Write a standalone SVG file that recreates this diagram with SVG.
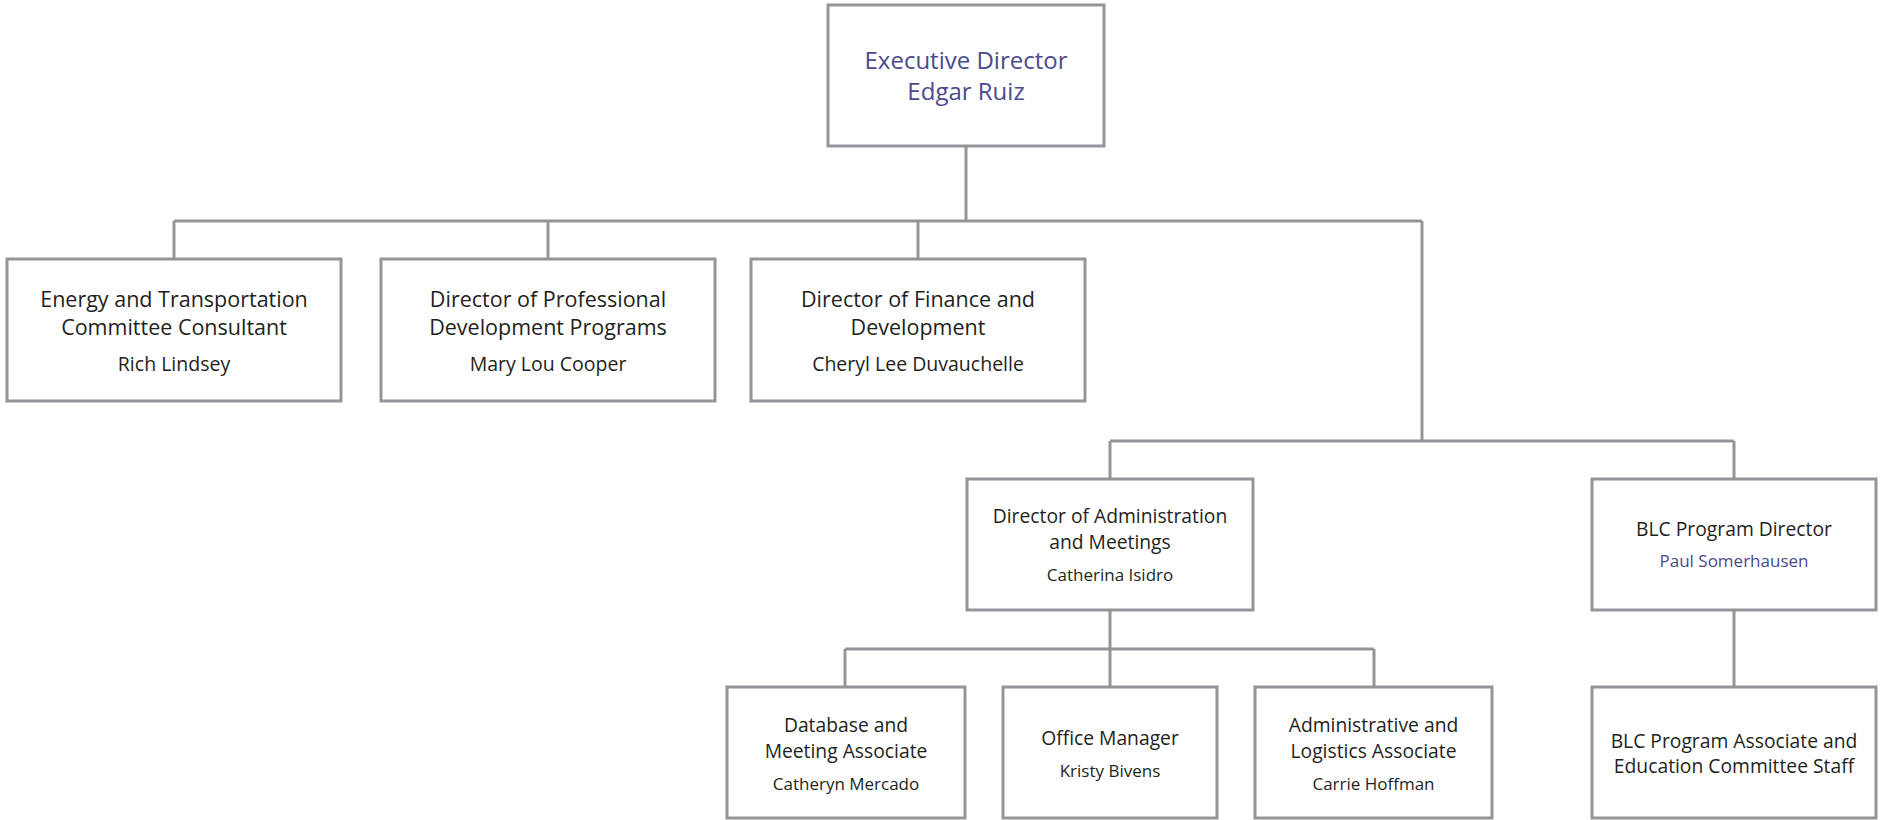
<svg xmlns="http://www.w3.org/2000/svg" width="1881" height="820" viewBox="0 0 1881 820">
<style>
.box{fill:#ffffff;stroke:#939598;stroke-width:3}
.con{fill:none;stroke:#939598;stroke-width:3}
text{font-family:"Open Sans","Noto Sans",sans-serif;text-anchor:middle;fill:#231f20}
.exec{font-size:24px;fill:#4b4a8c}
.t2{font-size:21.5px}
.n2{font-size:19.5px}
.t3{font-size:19.3px}
.n3{font-size:17px}
.blue{fill:#4b4a8c}
</style>
<rect width="1881" height="820" fill="#ffffff"/>
<g id="connectors">
<path class="con" d="M966 146V221M174 221H1422M174 221V259M548 221V259M918 221V259M1422 221V441M1110 441H1734M1110 441V479M1734 441V479M1110 610V649M845 649H1374M845 649V687M1110 649V687M1374 649V687M1734 610V687"/>
</g>
<g id="exec">
<rect class="box" x="828" y="5" width="276" height="141"/>
<text class="exec" x="966" y="69">Executive Director</text>
<text class="exec" x="966" y="100">Edgar Ruiz</text>
</g>
<g id="energy">
<rect class="box" x="7" y="259" width="334" height="142"/>
<text class="t2" x="174" y="307">Energy and Transportation</text>
<text class="t2" x="174" y="335">Committee Consultant</text>
<text class="n2" x="174" y="371">Rich Lindsey</text>
</g>
<g id="profdev">
<rect class="box" x="381" y="259" width="334" height="142"/>
<text class="t2" x="548" y="307">Director of Professional</text>
<text class="t2" x="548" y="335">Development Programs</text>
<text class="n2" x="548" y="371">Mary Lou Cooper</text>
</g>
<g id="finance">
<rect class="box" x="751" y="259" width="334" height="142"/>
<text class="t2" x="918" y="307">Director of Finance and</text>
<text class="t2" x="918" y="335">Development</text>
<text class="n2" x="918" y="371">Cheryl Lee Duvauchelle</text>
</g>
<g id="admin">
<rect class="box" x="967" y="479" width="286" height="131"/>
<text class="t3" x="1110" y="523">Director of Administration</text>
<text class="t3" x="1110" y="549">and Meetings</text>
<text class="n3" x="1110" y="581">Catherina Isidro</text>
</g>
<g id="blc">
<rect class="box" x="1592" y="479" width="284" height="131"/>
<text class="t3" x="1734" y="536">BLC Program Director</text>
<text class="n3 blue" x="1734" y="567">Paul Somerhausen</text>
</g>
<g id="database">
<rect class="box" x="727" y="687" width="238" height="131"/>
<text class="t3" x="846" y="732">Database and</text>
<text class="t3" x="846" y="758">Meeting Associate</text>
<text class="n3" x="846" y="790">Catheryn Mercado</text>
</g>
<g id="office">
<rect class="box" x="1003" y="687" width="214" height="131"/>
<text class="t3" x="1110" y="745">Office Manager</text>
<text class="n3" x="1110" y="777">Kristy Bivens</text>
</g>
<g id="logistics">
<rect class="box" x="1255" y="687" width="237" height="131"/>
<text class="t3" x="1373.5" y="732">Administrative and</text>
<text class="t3" x="1373.5" y="758">Logistics Associate</text>
<text class="n3" x="1373.5" y="790">Carrie Hoffman</text>
</g>
<g id="blcassoc">
<rect class="box" x="1592" y="687" width="284" height="131"/>
<text class="t3" x="1734" y="748">BLC Program Associate and</text>
<text class="t3" x="1734" y="773">Education Committee Staff</text>
</g>
</svg>
